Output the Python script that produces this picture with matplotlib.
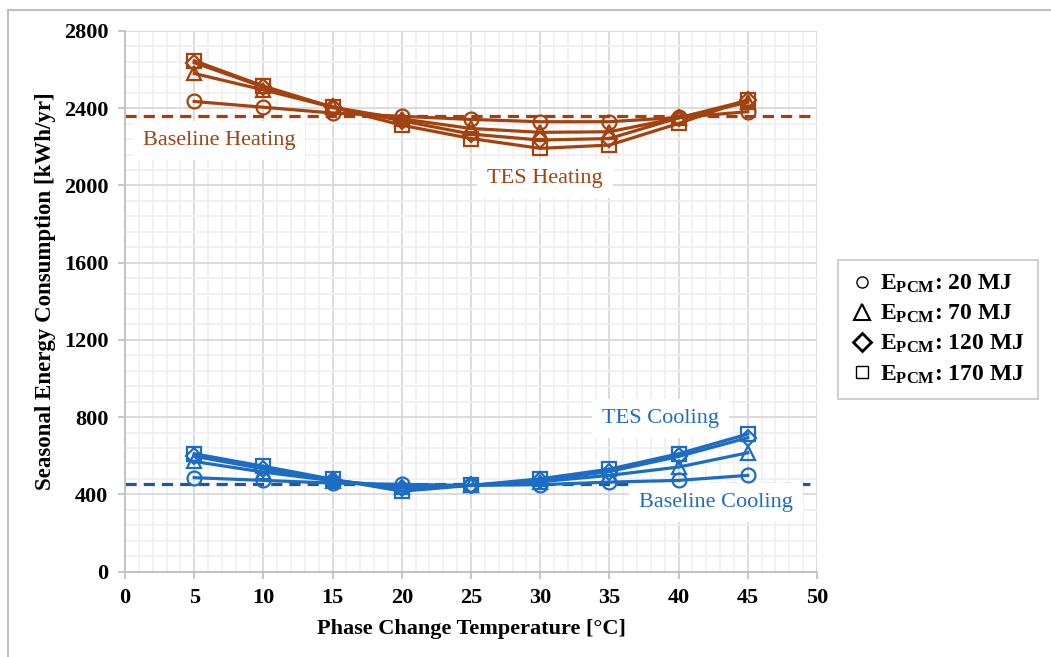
import matplotlib
matplotlib.use("Agg")
import matplotlib.pyplot as plt
from matplotlib.lines import Line2D
from matplotlib.patches import Rectangle

plt.rcParams['font.family'] = ['Liberation Serif', 'DejaVu Serif']
plt.rcParams['mathtext.fontset'] = 'custom'
plt.rcParams['mathtext.rm'] = 'Liberation Serif:bold'
plt.rcParams['mathtext.bf'] = 'Liberation Serif:bold'
plt.rcParams['mathtext.it'] = 'Liberation Serif:bold'

# ---------------- data ----------------
temps = [5, 10, 15, 20, 25, 30, 35, 40, 45]
heat_20 = [2435, 2405, 2375, 2358, 2342, 2330, 2330, 2352, 2382]
heat_70 = [2580, 2495, 2405, 2345, 2295, 2275, 2278, 2350, 2430]
heat_120 = [2636, 2510, 2405, 2335, 2266, 2235, 2243, 2350, 2440]
heat_170 = [2646, 2515, 2405, 2312, 2243, 2192, 2209, 2321, 2445]
cool_20 = [486, 472, 458, 451, 446, 450, 463, 472, 498]
cool_70 = [570, 515, 470, 440, 446, 465, 498, 541, 615]
cool_120 = [597, 532, 472, 432, 446, 472, 518, 596, 693]
cool_170 = [610, 545, 478, 416, 446, 480, 530, 610, 712]
baseline_heating = 2360
baseline_cooling = 455
legend_labels = [r'$\mathbf{E_{PCM}}$: 20 MJ', r'$\mathbf{E_{PCM}}$: 70 MJ',
                 r'$\mathbf{E_{PCM}}$: 120 MJ', r'$\mathbf{E_{PCM}}$: 170 MJ']
markers = ['o', '^', 'D', 's']
x_ticks = list(range(0, 51, 5))
y_ticks = list(range(0, 2801, 400))

heat_color = '#A3420F'
heat_dash = '#A0400F'
cool_color = '#1C6CC4'
cool_dash = '#1F56A0'

fig = plt.figure(figsize=(10.51, 6.57), dpi=100)
W, H = 1051, 657
# outer chart frame (cropped at right/bottom)
fig.patches.append(Rectangle((8 / W, -0.1), 1.2, (1 - 10 / H) + 0.1, transform=fig.transFigure,
                             fill=False, edgecolor='#BFBFBF', linewidth=1.5))

ax = fig.add_axes([125 / W, 1 - 571.5 / H, (817 - 125) / W, (571.5 - 31) / H])

ax.set_xlim(0, 50)
ax.set_ylim(0, 2800)
ax.set_xticks(x_ticks)
ax.set_yticks(y_ticks)
ax.set_xticks(range(0, 51, 1), minor=True)
ax.set_yticks(range(0, 2801, 80), minor=True)
ax.grid(which='major', color='#D9D9D9', linewidth=1.3, zorder=0)
ax.grid(which='minor', color='#F0F0F0', linewidth=1.3, zorder=0)
ax.set_axisbelow(True)
for s in ['top', 'right']:
    ax.spines[s].set_visible(False)
for s in ['left', 'bottom']:
    ax.spines[s].set_color('#BFBFBF')
    ax.spines[s].set_linewidth(1.3)
ax.tick_params(which='major', direction='out', length=5, width=1.2, color='#BFBFBF',
               labelsize=16, pad=7)
ax.tick_params(which='minor', length=0)
for lab in ax.get_xticklabels() + ax.get_yticklabels():
    lab.set_fontweight('bold')

# baselines
ax.axhline(baseline_heating, color=heat_dash, linestyle=(0, (3.5, 2.2)), linewidth=2.3, zorder=2)
ax.axhline(baseline_cooling, color=cool_dash, linestyle=(0, (3.5, 2.2)), linewidth=2.3, zorder=2)

heat_series = [heat_20, heat_70, heat_120, heat_170]
cool_series = [cool_20, cool_70, cool_120, cool_170]
for ys, m in zip(heat_series, markers):
    ax.plot(temps, ys, color=heat_color, linewidth=2.3, marker=m, markersize=10 if m != 'D' else 8,
            markerfacecolor='none', markeredgewidth=1.6, zorder=3)
for ys, m in zip(cool_series, markers):
    ax.plot(temps, ys, color=cool_color, linewidth=2.3, marker=m, markersize=10 if m != 'D' else 8,
            markerfacecolor='none', markeredgewidth=1.6, zorder=3)

box = dict(boxstyle='square,pad=0.45', facecolor='white', edgecolor='none')
ax.text(6.8, 2231, 'Baseline Heating', color=heat_color, fontsize=16, ha='center', va='center',
        bbox=box, zorder=2.5)
ax.text(30.35, 2034, 'TES Heating', color=heat_color, fontsize=16, ha='center', va='center',
        bbox=box, zorder=2.5)
ax.text(38.7, 795, 'TES Cooling', color=cool_color, fontsize=16, ha='center', va='center',
        bbox=box, zorder=2.5)
ax.text(42.7, 355, 'Baseline Cooling', color=cool_color, fontsize=16, ha='center', va='center',
        bbox=box, zorder=2.5)

ax.set_xlabel('Phase Change Temperature [°C]', fontsize=16, fontweight='bold')
ax.set_ylabel('Seasonal Energy Consumption [kWh/yr]', fontsize=16.5, fontweight='bold')
ax.xaxis.set_label_coords(0.5, -0.088)
ax.yaxis.set_label_coords(-0.100, 0.519)

handles = [Line2D([], [], linestyle='none', marker=m, markersize=ms, markerfacecolor='none',
                  markeredgecolor='black', markeredgewidth=mw)
           for m, ms, mw in zip(markers, [8, 12, 9, 9], [1.0, 1.5, 2.0, 1.0])]
leg = fig.legend(handles, legend_labels, loc='upper left',
                 bbox_to_anchor=(838 / W, 1 - 260 / H), borderaxespad=0.0, frameon=True,
                 fancybox=False, edgecolor='#BFBFBF', handlelength=0.9, handletextpad=0.35,
                 labelspacing=0.33, borderpad=0.55, prop={'size': 17, 'weight': 'bold'})
leg.get_frame().set_linewidth(1.3)

fig.savefig('out.png', dpi=100, facecolor='white')
